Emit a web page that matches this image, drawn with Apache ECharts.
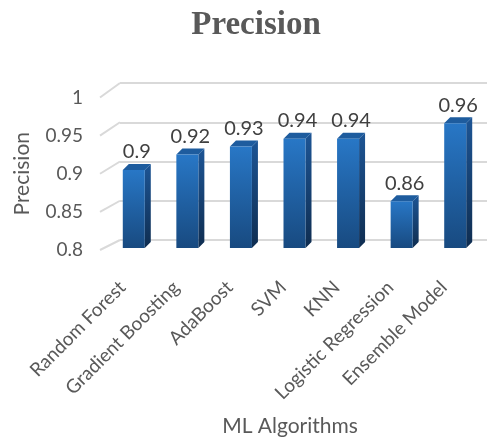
<!DOCTYPE html>
<html>
<head>
<meta charset="utf-8">
<script src="https://cdn.jsdelivr.net/npm/echarts@6/dist/echarts.min.js"></script>
<style>
  html, body { margin: 0; padding: 0; background: #fff; }
  #chart { width: 487px; height: 438px; }
</style>
</head>
<body>
<div id="chart"></div>
<script>
// Precision of each algorithm
const categories = ['Random Forest', 'Gradient Boosting', 'AdaBoost', 'SVM', 'KNN', 'Logistic Regression', 'Ensemble Model'];
const precision = [0.9, 0.92, 0.93, 0.94, 0.94, 0.86, 0.96];
const yMin = 0.8, yMax = 1, yStep = 0.05;
const wallTicks = [0.8, 0.85, 0.9, 0.95, 1];

const FONT = 'Lato, "Open Sans", sans-serif';
const TEXT = '#595959';
const GRID_LINE = '#d9d9d9';

const chart = echarts.init(document.getElementById('chart'), null, { renderer: 'canvas' });

// Extruded bar: front face, right side face and top face
function renderBar(params, api) {
  const i = api.value(0), v = api.value(1);
  const top = api.coord([i, v]);
  const base = api.coord([i, yMin]);
  const hw = 11, d = 6;
  const xl = top[0] - hw, xr = top[0] + hw;
  const yt = top[1], yb = base[1];
  return {
    type: 'group',
    children: [
      {
        type: 'polygon',
        shape: { points: [[xr, yt], [xr + d, yt - d], [xr + d, yb - d], [xr, yb]] },
        style: {
          fill: new echarts.graphic.LinearGradient(0, 0, 0, 1, [
            { offset: 0, color: '#1d5595' }, { offset: 1, color: '#0f2d50' }
          ])
        }
      },
      {
        type: 'polygon',
        shape: { points: [[xl, yt], [xl + d, yt - d], [xr + d, yt - d], [xr, yt]] },
        style: { fill: '#1e5c9e' }
      },
      {
        type: 'polygon',
        shape: { points: [[xl, yt], [xr, yt], [xr, yb], [xl, yb]] },
        style: {
          fill: new echarts.graphic.LinearGradient(0, 0, 0, 1, [
            { offset: 0, color: '#2877c6' }, { offset: 1, color: '#184a80' }
          ])
        }
      },
      {
        type: 'text',
        style: {
          text: String(v),
          x: top[0] + 3, y: yt - d - 2,
          align: 'center', verticalAlign: 'bottom',
          fill: '#404040', font: '20px ' + FONT
        }
      }
    ]
  };
}

chart.setOption({
  animation: false,
  title: [
    {
      text: 'Precision', left: 251, top: 4, textAlign: 'center',
      textStyle: { fontFamily: '"Liberation Serif", "Times New Roman", serif', fontWeight: 'bold', fontSize: 33, color: TEXT }
    },
    {
      text: 'ML Algorithms', left: 285, top: 411, textAlign: 'center',
      textStyle: { fontFamily: FONT, fontWeight: 'normal', fontSize: 21, color: TEXT }
    }
  ],
  grid: [
    { left: 107, right: 5, top: 92, height: 156 },   // bars
    { left: 120, right: 0, top: 83, height: 157 },   // back wall
    { left: 100, width: 20, top: 97.5, height: 152.5 } // front edge of wall, carries tick labels
  ],
  xAxis: [
    {
      gridIndex: 0, type: 'category', data: categories,
      axisLine: { show: false }, axisTick: { show: false },
      axisLabel: { rotate: 45, margin: 25, padding: [0, 16, 0, 0], interval: 0, fontFamily: FONT, fontSize: 19, color: TEXT }
    },
    { gridIndex: 1, type: 'value', min: 0, max: 1, show: false },
    { gridIndex: 2, type: 'value', min: 0, max: 1, show: false }
  ],
  yAxis: [
    { gridIndex: 0, type: 'value', min: yMin, max: yMax, interval: yStep, show: false },
    {
      gridIndex: 1, type: 'value', min: yMin, max: yMax, interval: yStep,
      axisLine: { show: false }, axisTick: { show: false }, axisLabel: { show: false },
      splitLine: { lineStyle: { color: GRID_LINE, width: 2 } }
    },
    {
      gridIndex: 2, type: 'value', min: yMin, max: yMax, interval: yStep,
      axisLine: { show: false }, axisTick: { show: false }, splitLine: { show: false },
      axisLabel: { margin: 17, fontFamily: FONT, fontSize: 19, color: TEXT, formatter: v => String(+v.toFixed(2)) },
      name: 'Precision', nameLocation: 'middle', nameGap: 67, nameRotate: 90,
      nameTextStyle: { fontFamily: FONT, fontSize: 21, color: TEXT }
    }
  ],
  series: [
    {
      type: 'custom', xAxisIndex: 0, yAxisIndex: 0,
      renderItem: renderBar,
      data: precision.map((v, i) => [i, v])
    }
  ]
});

// Side wall: slanted lines joining the front edge of each tick to the back wall
const diagonals = wallTicks.map(v => {
  const back = chart.convertToPixel({ xAxisIndex: 1, yAxisIndex: 1 }, [0, v]);
  const front = chart.convertToPixel({ xAxisIndex: 2, yAxisIndex: 2 }, [0, v]);
  return {
    type: 'line', z: -1,
    shape: { x1: front[0], y1: front[1], x2: back[0], y2: back[1] },
    style: { stroke: GRID_LINE, lineWidth: 2 }
  };
});
chart.setOption({ graphic: diagonals });
</script>
</body>
</html>
